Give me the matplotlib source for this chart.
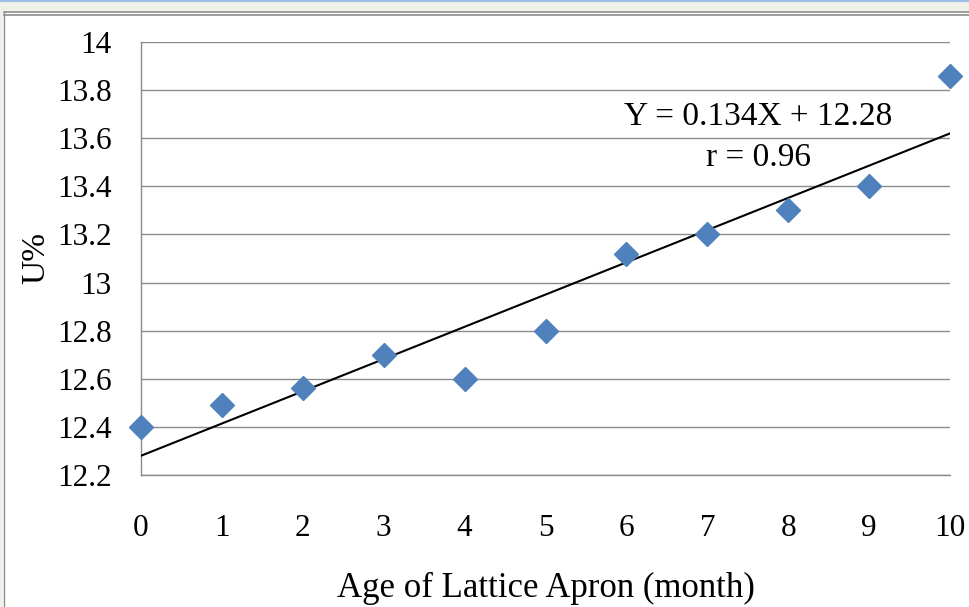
import matplotlib
matplotlib.use("Agg")
import matplotlib.pyplot as plt
from matplotlib.patches import Rectangle
from matplotlib.lines import Line2D
import numpy as np

# data
months = [0, 1, 2, 3, 4, 5, 6, 7, 8, 9, 10]
u_percent = [12.40, 12.49, 12.56, 12.70, 12.60, 12.80, 13.12, 13.20, 13.30, 13.40, 13.86]
slope = 0.134
intercept = 12.28
y_ticks = [12.2, 12.4, 12.6, 12.8, 13.0, 13.2, 13.4, 13.6, 13.8, 14.0]
y_tick_labels = ["12.2", "12.4", "12.6", "12.8", "13", "13.2", "13.4", "13.6", "13.8", "14"]
equation_text = "Y = 0.134X + 12.28"
r_text = "r = 0.96"

plt.rcParams['font.family'] = ['Liberation Serif', 'DejaVu Serif']

W, H = 969, 607
fig = plt.figure(figsize=(W / 100, H / 100), dpi=100)
fig.patch.set_facecolor('white')

def fx(px):
    return px / W

def fy(py):
    return 1 - py / H

# window frame (gray strips outside the white chart area)
fig.patches.append(Rectangle((0, fy(12)), 1, 1 - fy(12), transform=fig.transFigure,
                             facecolor='#F1F1EC', edgecolor='none', zorder=-10))
fig.patches.append(Rectangle((0, 0), fx(3), 1, transform=fig.transFigure,
                             facecolor='#F1F1EC', edgecolor='none', zorder=-10))
fig.lines.append(Line2D([0, 1], [fy(0.5), fy(0.5)], transform=fig.transFigure, color='#9CC0E6', lw=1.5))
fig.lines.append(Line2D([fx(3.5), 1], [fy(11.5), fy(11.5)], transform=fig.transFigure, color='#8C8C8C', lw=1.2))
fig.lines.append(Line2D([fx(3.5), 1], [fy(14.5), fy(14.5)], transform=fig.transFigure, color='#8C8C8C', lw=1.2))
fig.lines.append(Line2D([fx(3.5), fx(3.5)], [0, fy(11.5)], transform=fig.transFigure, color='#8C8C8C', lw=1.0))

ax = fig.add_axes([fx(141), fy(475), fx(950) - fx(141), fy(42) - fy(475)])
ax.set_facecolor('white')
ax.set_xlim(0, 10)
ax.set_ylim(12.2, 14.0)
ax.set_yticks(y_ticks)
ax.set_yticklabels(y_tick_labels)
ax.set_xticks(months)
ax.set_xticklabels([str(m) for m in months])
ax.grid(axis='y', color='#8A8A8A', lw=1.0)
ax.set_axisbelow(True)
for s in ['top', 'right']:
    ax.spines[s].set_visible(False)
for s in ['left', 'bottom']:
    ax.spines[s].set_color('#8A8A8A')
    ax.spines[s].set_linewidth(1.0)
ax.tick_params(axis='both', length=0, labelsize=22.5, colors='black')
ax.tick_params(axis='y', pad=21)
ax.tick_params(axis='x', pad=28)

# trend line
xl = np.array([months[0], months[-1]])
ax.plot(xl, slope * xl + intercept, color='black', lw=1.5, zorder=3)

ax.plot(months, u_percent, linestyle='none', marker='D', markersize=12,
        color='#4F81BD', markeredgecolor='#4F81BD', clip_on=False, zorder=4)

ax.text(7.63, 13.688, equation_text, ha='center', va='center', fontsize=24)
ax.text(7.63, 13.518, r_text, ha='center', va='center', fontsize=24)

ax.set_xlabel("Age of Lattice Apron (month)", fontsize=25, labelpad=21)
ax.set_ylabel("U%", fontsize=24, labelpad=4)

fig.savefig("out.png", dpi=100, facecolor=fig.get_facecolor())
